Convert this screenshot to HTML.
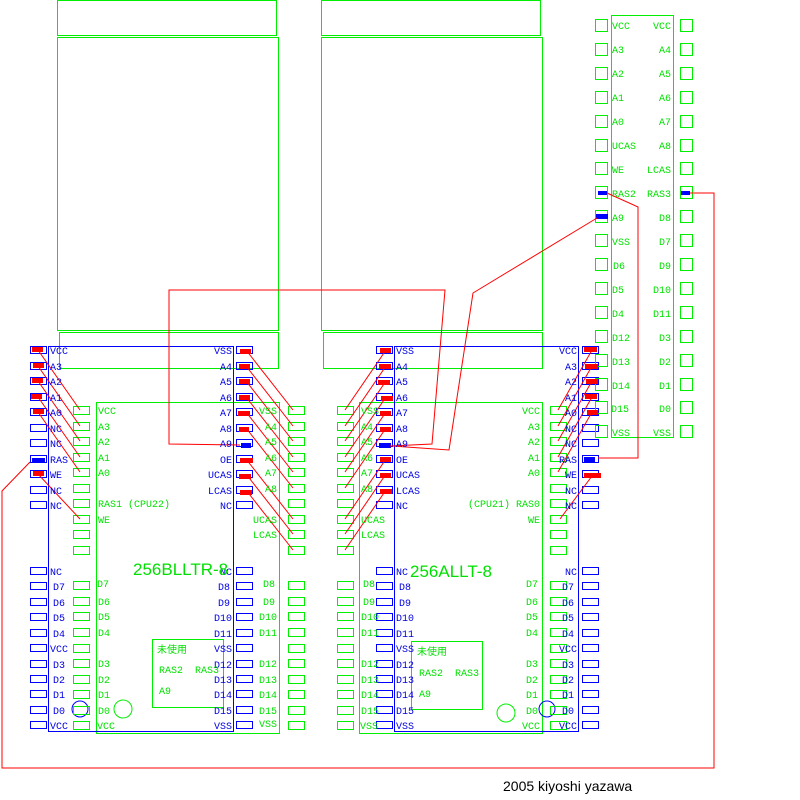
<!DOCTYPE html>
<html><head><meta charset="utf-8"><style>
html,body{margin:0;padding:0;background:#fff;width:800px;height:800px;overflow:hidden}
svg{display:block}
text{font-family:"Liberation Mono","Noto Sans CJK JP",monospace;font-size:10px}
.g{fill:#00e000}.b{fill:#0000e0}
</style></head><body>
<svg width="800" height="800" viewBox="0 0 800 800" xmlns="http://www.w3.org/2000/svg">
<defs>
<rect id="bp" width="16" height="7" fill="none" stroke="#0000ff" stroke-width="1"/>
<rect id="gp" width="16" height="8" fill="none" stroke="#00ee00" stroke-width="1"/>
<rect id="cp" width="12" height="12" fill="none" stroke="#00ee00" stroke-width="1"/>
</defs>
<g fill="none" stroke="#00ee00" stroke-width="1">
<rect x="57.5" y="0.5" width="219" height="35"/>
<rect x="57.5" y="37.5" width="221" height="293"/>
<rect x="59.5" y="332.5" width="219" height="36"/>
<rect x="321.5" y="0.5" width="219" height="35"/>
<rect x="321.5" y="37.5" width="221" height="293"/>
<rect x="323.5" y="332.5" width="219" height="36"/>
<rect x="96.5" y="402.5" width="183" height="331"/>
<rect x="359.5" y="402.5" width="183" height="331"/>
<rect x="611.5" y="15.5" width="62" height="422"/>
<rect x="152.5" y="639.5" width="71" height="68"/>
<rect x="411.5" y="641.5" width="71" height="68"/>
<circle cx="123" cy="709" r="9"/>
<circle cx="506" cy="713" r="9"/>
</g>
<g fill="none" stroke="#0000ff" stroke-width="1">
<rect x="48.5" y="346.5" width="185" height="385"/>
<rect x="394.5" y="346.5" width="184" height="385"/>
<circle cx="80" cy="709" r="8"/>
<circle cx="547" cy="709" r="8"/>
</g>
<!-- blue pads -->
<g>
<use href="#bp" x="30.5" y="346.5"/><use href="#bp" x="30.5" y="362.5"/><use href="#bp" x="30.5" y="377.5"/><use href="#bp" x="30.5" y="393.5"/><use href="#bp" x="30.5" y="408.5"/><use href="#bp" x="30.5" y="424.5"/><use href="#bp" x="30.5" y="439.5"/><use href="#bp" x="30.5" y="455.5"/><use href="#bp" x="30.5" y="470.5"/><use href="#bp" x="30.5" y="486.5"/><use href="#bp" x="30.5" y="501.5"/>
<use href="#bp" x="30.5" y="567.5"/><use href="#bp" x="30.5" y="582.5"/><use href="#bp" x="30.5" y="598.5"/><use href="#bp" x="30.5" y="613.5"/><use href="#bp" x="30.5" y="629.5"/><use href="#bp" x="30.5" y="644.5"/><use href="#bp" x="30.5" y="660.5"/><use href="#bp" x="30.5" y="675.5"/><use href="#bp" x="30.5" y="690.5"/><use href="#bp" x="30.5" y="706.5"/><use href="#bp" x="30.5" y="721.5"/>
<use href="#bp" x="236.5" y="346.5"/><use href="#bp" x="236.5" y="362.5"/><use href="#bp" x="236.5" y="377.5"/><use href="#bp" x="236.5" y="393.5"/><use href="#bp" x="236.5" y="408.5"/><use href="#bp" x="236.5" y="424.5"/><use href="#bp" x="236.5" y="439.5"/><use href="#bp" x="236.5" y="455.5"/><use href="#bp" x="236.5" y="470.5"/><use href="#bp" x="236.5" y="486.5"/><use href="#bp" x="236.5" y="501.5"/>
<use href="#bp" x="236.5" y="567.5"/><use href="#bp" x="236.5" y="582.5"/><use href="#bp" x="236.5" y="598.5"/><use href="#bp" x="236.5" y="613.5"/><use href="#bp" x="236.5" y="629.5"/><use href="#bp" x="236.5" y="644.5"/><use href="#bp" x="236.5" y="660.5"/><use href="#bp" x="236.5" y="675.5"/><use href="#bp" x="236.5" y="690.5"/><use href="#bp" x="236.5" y="706.5"/><use href="#bp" x="236.5" y="721.5"/>
<use href="#bp" x="376.5" y="346.5"/><use href="#bp" x="376.5" y="362.5"/><use href="#bp" x="376.5" y="377.5"/><use href="#bp" x="376.5" y="393.5"/><use href="#bp" x="376.5" y="408.5"/><use href="#bp" x="376.5" y="424.5"/><use href="#bp" x="376.5" y="439.5"/><use href="#bp" x="376.5" y="455.5"/><use href="#bp" x="376.5" y="470.5"/><use href="#bp" x="376.5" y="486.5"/><use href="#bp" x="376.5" y="501.5"/>
<use href="#bp" x="376.5" y="567.5"/><use href="#bp" x="376.5" y="582.5"/><use href="#bp" x="376.5" y="598.5"/><use href="#bp" x="376.5" y="613.5"/><use href="#bp" x="376.5" y="629.5"/><use href="#bp" x="376.5" y="644.5"/><use href="#bp" x="376.5" y="660.5"/><use href="#bp" x="376.5" y="675.5"/><use href="#bp" x="376.5" y="690.5"/><use href="#bp" x="376.5" y="706.5"/><use href="#bp" x="376.5" y="721.5"/>
<use href="#bp" x="582.5" y="346.5"/><use href="#bp" x="582.5" y="362.5"/><use href="#bp" x="582.5" y="377.5"/><use href="#bp" x="582.5" y="393.5"/><use href="#bp" x="582.5" y="408.5"/><use href="#bp" x="582.5" y="424.5"/><use href="#bp" x="582.5" y="439.5"/><use href="#bp" x="582.5" y="455.5"/><use href="#bp" x="582.5" y="470.5"/><use href="#bp" x="582.5" y="486.5"/><use href="#bp" x="582.5" y="501.5"/>
<use href="#bp" x="582.5" y="567.5"/><use href="#bp" x="582.5" y="582.5"/><use href="#bp" x="582.5" y="598.5"/><use href="#bp" x="582.5" y="613.5"/><use href="#bp" x="582.5" y="629.5"/><use href="#bp" x="582.5" y="644.5"/><use href="#bp" x="582.5" y="660.5"/><use href="#bp" x="582.5" y="675.5"/><use href="#bp" x="582.5" y="690.5"/><use href="#bp" x="582.5" y="706.5"/><use href="#bp" x="582.5" y="721.5"/>
</g>
<!-- green pads -->
<g>
<use href="#gp" x="73.5" y="406.5"/><use href="#gp" x="73.5" y="422.5"/><use href="#gp" x="73.5" y="437.5"/><use href="#gp" x="73.5" y="453.5"/><use href="#gp" x="73.5" y="468.5"/><use href="#gp" x="73.5" y="484.5"/><use href="#gp" x="73.5" y="499.5"/><use href="#gp" x="73.5" y="515.5"/><use href="#gp" x="73.5" y="530.5"/><use href="#gp" x="73.5" y="546.5"/>
<use href="#gp" x="73.5" y="581.5"/><use href="#gp" x="73.5" y="597.5"/><use href="#gp" x="73.5" y="612.5"/><use href="#gp" x="73.5" y="628.5"/><use href="#gp" x="73.5" y="644.5"/><use href="#gp" x="73.5" y="659.5"/><use href="#gp" x="73.5" y="675.5"/><use href="#gp" x="73.5" y="690.5"/><use href="#gp" x="73.5" y="706.5"/><use href="#gp" x="73.5" y="721.5"/>
<use href="#gp" x="288.5" y="406.5"/><use href="#gp" x="288.5" y="422.5"/><use href="#gp" x="288.5" y="437.5"/><use href="#gp" x="288.5" y="453.5"/><use href="#gp" x="288.5" y="468.5"/><use href="#gp" x="288.5" y="484.5"/><use href="#gp" x="288.5" y="499.5"/><use href="#gp" x="288.5" y="515.5"/><use href="#gp" x="288.5" y="530.5"/><use href="#gp" x="288.5" y="546.5"/>
<use href="#gp" x="288.5" y="581.5"/><use href="#gp" x="288.5" y="597.5"/><use href="#gp" x="288.5" y="612.5"/><use href="#gp" x="288.5" y="628.5"/><use href="#gp" x="288.5" y="644.5"/><use href="#gp" x="288.5" y="659.5"/><use href="#gp" x="288.5" y="675.5"/><use href="#gp" x="288.5" y="690.5"/><use href="#gp" x="288.5" y="706.5"/><use href="#gp" x="288.5" y="721.5"/>
<use href="#gp" x="337.5" y="406.5"/><use href="#gp" x="337.5" y="422.5"/><use href="#gp" x="337.5" y="437.5"/><use href="#gp" x="337.5" y="453.5"/><use href="#gp" x="337.5" y="468.5"/><use href="#gp" x="337.5" y="484.5"/><use href="#gp" x="337.5" y="499.5"/><use href="#gp" x="337.5" y="515.5"/><use href="#gp" x="337.5" y="530.5"/><use href="#gp" x="337.5" y="546.5"/>
<use href="#gp" x="337.5" y="581.5"/><use href="#gp" x="337.5" y="597.5"/><use href="#gp" x="337.5" y="612.5"/><use href="#gp" x="337.5" y="628.5"/><use href="#gp" x="337.5" y="644.5"/><use href="#gp" x="337.5" y="659.5"/><use href="#gp" x="337.5" y="675.5"/><use href="#gp" x="337.5" y="690.5"/><use href="#gp" x="337.5" y="706.5"/><use href="#gp" x="337.5" y="721.5"/>
<use href="#gp" x="550.5" y="406.5"/><use href="#gp" x="550.5" y="422.5"/><use href="#gp" x="550.5" y="437.5"/><use href="#gp" x="550.5" y="453.5"/><use href="#gp" x="550.5" y="468.5"/><use href="#gp" x="550.5" y="484.5"/><use href="#gp" x="550.5" y="499.5"/><use href="#gp" x="550.5" y="515.5"/><use href="#gp" x="550.5" y="530.5"/><use href="#gp" x="550.5" y="546.5"/>
<use href="#gp" x="550.5" y="581.5"/><use href="#gp" x="550.5" y="597.5"/><use href="#gp" x="550.5" y="612.5"/><use href="#gp" x="550.5" y="628.5"/><use href="#gp" x="550.5" y="644.5"/><use href="#gp" x="550.5" y="659.5"/><use href="#gp" x="550.5" y="675.5"/><use href="#gp" x="550.5" y="690.5"/><use href="#gp" x="550.5" y="706.5"/><use href="#gp" x="550.5" y="721.5"/>
</g>
<!-- connector pads -->
<g>
<use href="#cp" x="595.5" y="19.5"/><use href="#cp" x="595.5" y="43.5"/><use href="#cp" x="595.5" y="67.5"/><use href="#cp" x="595.5" y="91.5"/><use href="#cp" x="595.5" y="115.5"/><use href="#cp" x="595.5" y="139.5"/><use href="#cp" x="595.5" y="162.5"/><use href="#cp" x="595.5" y="186.5"/><use href="#cp" x="595.5" y="210.5"/><use href="#cp" x="595.5" y="234.5"/><use href="#cp" x="595.5" y="258.5"/><use href="#cp" x="595.5" y="282.5"/><use href="#cp" x="595.5" y="306.5"/><use href="#cp" x="595.5" y="330.5"/><use href="#cp" x="595.5" y="354.5"/><use href="#cp" x="595.5" y="378.5"/><use href="#cp" x="595.5" y="401.5"/><use href="#cp" x="595.5" y="425.5"/>
<use href="#cp" x="680.5" y="19.5"/><use href="#cp" x="680.5" y="43.5"/><use href="#cp" x="680.5" y="67.5"/><use href="#cp" x="680.5" y="91.5"/><use href="#cp" x="680.5" y="115.5"/><use href="#cp" x="680.5" y="139.5"/><use href="#cp" x="680.5" y="162.5"/><use href="#cp" x="680.5" y="186.5"/><use href="#cp" x="680.5" y="210.5"/><use href="#cp" x="680.5" y="234.5"/><use href="#cp" x="680.5" y="258.5"/><use href="#cp" x="680.5" y="282.5"/><use href="#cp" x="680.5" y="306.5"/><use href="#cp" x="680.5" y="330.5"/><use href="#cp" x="680.5" y="354.5"/><use href="#cp" x="680.5" y="378.5"/><use href="#cp" x="680.5" y="401.5"/><use href="#cp" x="680.5" y="425.5"/>
</g>
<!-- filled pads -->
<g fill="#ff0000">
<rect x="32" y="347" width="11" height="5"/><rect x="33" y="363" width="11" height="5"/><rect x="32" y="378" width="11" height="5"/><rect x="31" y="394" width="11" height="5"/><rect x="33" y="409" width="11" height="5"/><rect x="33" y="471" width="11" height="5"/>
<rect x="240" y="349" width="11" height="5"/><rect x="239" y="364" width="11" height="5"/><rect x="239" y="379" width="11" height="5"/><rect x="239" y="395" width="11" height="5"/><rect x="238" y="411" width="12" height="5"/><rect x="239" y="427" width="10" height="5"/><rect x="240" y="458" width="13" height="5"/><rect x="239" y="474" width="12" height="5"/><rect x="240" y="490" width="12" height="5"/>
<rect x="380" y="348" width="11" height="5"/><rect x="379" y="364" width="12" height="5"/><rect x="378" y="380" width="12" height="5"/><rect x="381" y="396" width="12" height="5"/><rect x="380" y="411" width="11" height="5"/><rect x="380" y="427" width="11" height="5"/><rect x="380" y="457" width="11" height="5"/><rect x="380" y="473" width="11" height="5"/><rect x="380" y="489" width="12" height="5"/>
<rect x="584" y="347" width="13" height="5"/><rect x="585" y="364" width="13" height="5"/><rect x="586" y="379" width="12" height="5"/><rect x="585" y="394" width="12" height="5"/><rect x="587" y="410" width="11" height="5"/><rect x="584" y="473" width="17" height="5"/>
</g>
<g fill="#0000ff">
<rect x="32" y="458" width="13" height="5"/><rect x="241" y="443" width="10" height="5"/><rect x="379" y="443" width="12" height="5"/><rect x="584" y="457" width="11" height="5"/>
<rect x="598" y="191" width="9" height="4"/><rect x="596" y="214" width="12" height="5"/><rect x="681" y="191" width="9" height="4"/>
</g>
<!-- red wires -->
<g fill="none" stroke="#ff0000" stroke-width="1">
<polyline points="30,462 2,491 2,768 714,768 714,193 690,193"/>
<polyline points="607,193 638,207 638,458 598,458"/>
<polyline points="240,445 169,444 169,290 445,290 432,444 390,446"/>
<polyline points="597,218 473,293 449,450 392,446"/>
<line x1="38" y1="350" x2="80" y2="410"/><line x1="38" y1="366" x2="80" y2="426"/><line x1="38" y1="381" x2="80" y2="441"/><line x1="38" y1="397" x2="80" y2="457"/><line x1="38" y1="412" x2="80" y2="472"/><line x1="38" y1="474" x2="80" y2="519"/>
<line x1="246" y1="350" x2="293" y2="410"/><line x1="246" y1="366" x2="293" y2="426"/><line x1="246" y1="381" x2="293" y2="441"/><line x1="246" y1="397" x2="293" y2="457"/><line x1="246" y1="412" x2="293" y2="472"/><line x1="246" y1="428" x2="293" y2="488"/><line x1="246" y1="459" x2="293" y2="519"/><line x1="246" y1="474" x2="293" y2="534"/><line x1="246" y1="490" x2="293" y2="550"/>
<line x1="386" y1="350" x2="345" y2="410"/><line x1="386" y1="366" x2="345" y2="426"/><line x1="386" y1="381" x2="345" y2="441"/><line x1="386" y1="397" x2="345" y2="457"/><line x1="386" y1="412" x2="345" y2="472"/><line x1="386" y1="428" x2="345" y2="488"/><line x1="386" y1="459" x2="345" y2="519"/><line x1="386" y1="474" x2="345" y2="534"/><line x1="386" y1="490" x2="345" y2="550"/>
<line x1="592" y1="350" x2="558" y2="410"/><line x1="592" y1="366" x2="558" y2="426"/><line x1="592" y1="381" x2="558" y2="441"/><line x1="592" y1="397" x2="558" y2="457"/><line x1="592" y1="412" x2="558" y2="472"/><line x1="592" y1="476" x2="560" y2="519"/>
</g>
<!-- blue labels -->
<g class="b">
<text x="50" y="354">VCC</text><text x="50" y="370">A3</text><text x="50" y="385">A2</text><text x="50" y="401">A1</text><text x="50" y="416">A0</text><text x="50" y="432">NC</text><text x="50" y="447">NC</text><text x="50" y="463">RAS</text><text x="50" y="478">WE</text><text x="50" y="494">NC</text><text x="50" y="509">NC</text>
<text x="50" y="575">NC</text><text x="53" y="590">D7</text><text x="53" y="606">D6</text><text x="53" y="621">D5</text><text x="53" y="637">D4</text><text x="50" y="652">VCC</text><text x="53" y="668">D3</text><text x="53" y="683">D2</text><text x="53" y="698">D1</text><text x="53" y="714">D0</text><text x="50" y="729">VCC</text>
<g text-anchor="end">
<text x="232" y="354">VSS</text><text x="232" y="370">A4</text><text x="232" y="385">A5</text><text x="232" y="401">A6</text><text x="232" y="416">A7</text><text x="232" y="432">A8</text><text x="232" y="447">A9</text><text x="232" y="463">OE</text><text x="232" y="478">UCAS</text><text x="232" y="494">LCAS</text><text x="232" y="509">NC</text>
<text x="232" y="575">NC</text><text x="230" y="590">D8</text><text x="230" y="606">D9</text><text x="232" y="621">D10</text><text x="232" y="637">D11</text><text x="232" y="652">VSS</text><text x="232" y="668">D12</text><text x="232" y="683">D13</text><text x="232" y="698">D14</text><text x="232" y="714">D15</text><text x="232" y="729">VSS</text>
<text x="577" y="354">VCC</text><text x="577" y="370">A3</text><text x="577" y="385">A2</text><text x="577" y="401">A1</text><text x="577" y="416">A0</text><text x="577" y="432">NC</text><text x="577" y="447">NC</text><text x="577" y="463">RAS</text><text x="577" y="478">WE</text><text x="577" y="494">NC</text><text x="577" y="509">NC</text>
<text x="577" y="575">NC</text><text x="574" y="590">D7</text><text x="574" y="606">D6</text><text x="574" y="621">D5</text><text x="574" y="637">D4</text><text x="577" y="652">VCC</text><text x="574" y="668">D3</text><text x="574" y="683">D2</text><text x="574" y="698">D1</text><text x="574" y="714">D0</text><text x="577" y="729">VCC</text>
</g>
<text x="396" y="354">VSS</text><text x="396" y="370">A4</text><text x="396" y="385">A5</text><text x="396" y="401">A6</text><text x="396" y="416">A7</text><text x="396" y="432">A8</text><text x="396" y="447">A9</text><text x="396" y="463">OE</text><text x="396" y="478">UCAS</text><text x="396" y="494">LCAS</text><text x="396" y="509">NC</text>
<text x="396" y="575">NC</text><text x="399" y="590">D8</text><text x="399" y="606">D9</text><text x="396" y="621">D10</text><text x="396" y="637">D11</text><text x="396" y="652">VSS</text><text x="396" y="668">D12</text><text x="396" y="683">D13</text><text x="396" y="698">D14</text><text x="396" y="714">D15</text><text x="396" y="729">VSS</text>
</g>
<!-- green labels -->
<g class="g">
<text x="98" y="414">VCC</text><text x="98" y="430">A3</text><text x="98" y="445">A2</text><text x="98" y="461">A1</text><text x="98" y="476">A0</text><text x="98" y="507">RAS1  (CPU22)</text><text x="98" y="523">WE</text>
<text x="97" y="587">D7</text><text x="98" y="605">D6</text><text x="98" y="620">D5</text><text x="98" y="636">D4</text><text x="98" y="667">D3</text><text x="98" y="683">D2</text><text x="98" y="698">D1</text><text x="98" y="714">D0</text><text x="97" y="729">VCC</text>
<g text-anchor="end">
<text x="277" y="414">VSS</text><text x="277" y="430">A4</text><text x="277" y="445">A5</text><text x="277" y="461">A6</text><text x="277" y="476">A7</text><text x="277" y="492">A8</text><text x="277" y="523">UCAS</text><text x="277" y="538">LCAS</text>
<text x="275" y="587">D8</text><text x="275" y="605">D9</text><text x="277" y="620">D10</text><text x="277" y="636">D11</text><text x="277" y="667">D12</text><text x="277" y="683">D13</text><text x="277" y="698">D14</text><text x="277" y="714">D15</text><text x="277" y="727">VSS</text>
<text x="540" y="414">VCC</text><text x="540" y="430">A3</text><text x="540" y="445">A2</text><text x="540" y="461">A1</text><text x="540" y="476">A0</text><text x="540" y="507">(CPU21)  RAS0</text><text x="540" y="523">WE</text>
<text x="538" y="587">D7</text><text x="538" y="605">D6</text><text x="538" y="620">D5</text><text x="538" y="636">D4</text><text x="538" y="667">D3</text><text x="538" y="683">D2</text><text x="538" y="698">D1</text><text x="538" y="714">D0</text><text x="540" y="729">VCC</text>
<text x="671" y="29">VCC</text><text x="671" y="53">A4</text><text x="671" y="77">A5</text><text x="671" y="101">A6</text><text x="671" y="125">A7</text><text x="671" y="149">A8</text><text x="671" y="173">LCAS</text><text x="671" y="197">RAS3</text><text x="671" y="221">D8</text><text x="671" y="245">D7</text><text x="671" y="269">D9</text><text x="671" y="293">D10</text><text x="671" y="317">D11</text><text x="671" y="341">D3</text><text x="671" y="365">D2</text><text x="671" y="389">D1</text><text x="671" y="412">D0</text><text x="671" y="436">VSS</text>
</g>
<text x="361" y="414">VSS</text><text x="361" y="430">A4</text><text x="361" y="445">A5</text><text x="361" y="461">A6</text><text x="361" y="476">A7</text><text x="361" y="492">A8</text><text x="361" y="523">UCAS</text><text x="361" y="538">LCAS</text>
<text x="363" y="587">D8</text><text x="363" y="605">D9</text><text x="361" y="620">D10</text><text x="361" y="636">D11</text><text x="361" y="667">D12</text><text x="361" y="683">D13</text><text x="361" y="698">D14</text><text x="361" y="714">D15</text><text x="360" y="729">VSS</text>
<text x="612" y="29">VCC</text><text x="612" y="53">A3</text><text x="612" y="77">A2</text><text x="612" y="101">A1</text><text x="612" y="125">A0</text><text x="612" y="149">UCAS</text><text x="612" y="173">WE</text><text x="612" y="197">RAS2</text><text x="612" y="221">A9</text><text x="612" y="245">VSS</text><text x="613" y="269">D6</text><text x="612" y="293">D5</text><text x="612" y="317">D4</text><text x="612" y="341">D12</text><text x="612" y="365">D13</text><text x="612" y="389">D14</text><text x="611" y="412">D15</text><text x="612" y="436">VSS</text>
<text x="133" y="575" style="font-size:17px;font-family:'Liberation Sans',sans-serif">256BLLTR-8</text>
<text x="410" y="577" style="font-size:17px;font-family:'Liberation Sans',sans-serif">256ALLT-8</text>
<text x="157" y="653">未使用</text><text x="159" y="673">RAS2</text><text x="195" y="673">RAS3</text><text x="159" y="694">A9</text>
<text x="417" y="655">未使用</text><text x="419" y="676">RAS2</text><text x="455" y="676">RAS3</text><text x="419" y="697">A9</text>
</g>
<text x="503" y="791" style="font-family:'Liberation Sans',sans-serif;font-size:14px" fill="#000">2005 kiyoshi yazawa</text>
</svg>
</body></html>
